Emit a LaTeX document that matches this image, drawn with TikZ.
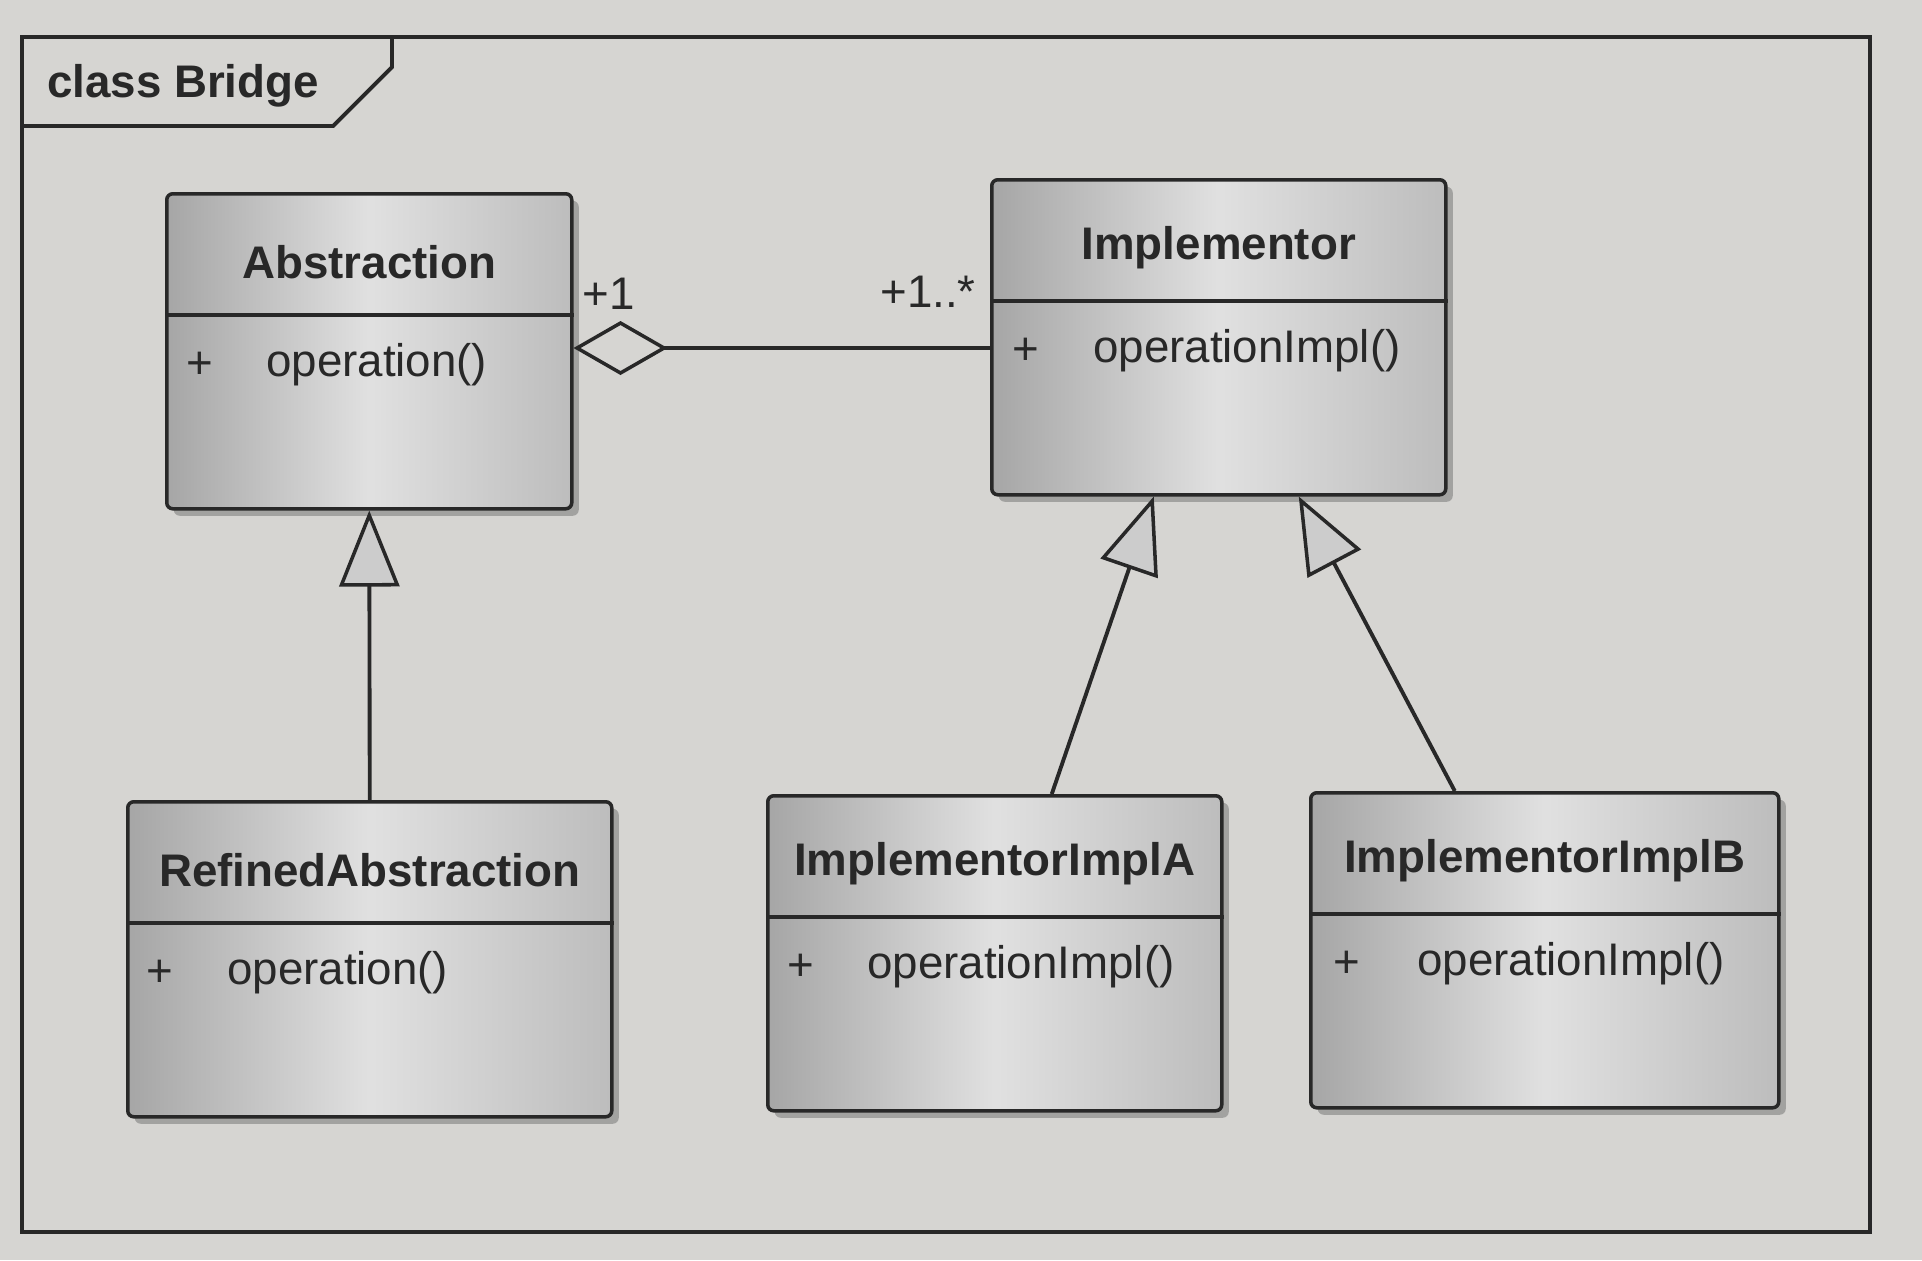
\documentclass[tikz,border=0pt]{standalone}
\usepackage{fontspec}
\setmainfont{Liberation Sans}
\usetikzlibrary{arrows.meta,shadows}
\definecolor{paper}{RGB}{214,213,210}
\definecolor{ink}{RGB}{40,40,40}

\begin{document}
\begin{tikzpicture}[
  x=1cm, y=-1cm,
  every node/.style={font=\fontsize{13}{15}\selectfont, inner sep=1pt, text=ink},
  classbox/.style={draw=ink, line width=1pt, rounded corners=0.6mm, anchor=north west,
    minimum height=3.15cm, left color=black!35, right color=black!26, middle color=black!12,
    drop shadow={shadow xshift=0.7mm, shadow yshift=-0.7mm, fill=black!50, opacity=0.6}},
  classname/.style={font=\fontsize{13}{15}\selectfont\bfseries},
  opname/.style={anchor=west},
  divider/.style={draw=ink, line width=1pt},
  inherit/.style={draw=ink, line width=1.1pt,
    -{Triangle[length=7.6mm, width=6mm, fill=black!20, line width=1pt]}},
  aggr/.style={draw=ink, line width=1.1pt,
    {Diamond[length=9.4mm, width=5.4mm, fill=paper, line width=1pt]}-},
]
\fill[paper] (0,0) rectangle (19.22,12.60);
\useasboundingbox (0,0) rectangle (19.22,12.60);

% frame
\draw[ink, line width=1.1pt] (0.22,0.37) rectangle (18.70,12.32);
\draw[ink, line width=1.1pt] (3.92,0.37) -- (3.92,0.67) -- (3.33,1.26) -- (0.22,1.26);
\node[classname, anchor=west] (frame-title) at (0.43,0.86) {class Bridge};

% Abstraction
\node[classbox, minimum width=4.05cm] (abs) at (1.65,1.92) {};
\draw[divider] ([yshift=-1.23cm]abs.north west) -- ([yshift=-1.23cm]abs.north east);
\node[classname] (abs-name) at ([yshift=-0.70cm]abs.north) {Abstraction};
\node (abs-vis) at ([xshift=0.35cm,yshift=-1.73cm]abs.north west) {+};
\node[opname] (abs-op) at ([xshift=0.97cm,yshift=-1.73cm]abs.north west) {operation()};

% Implementor
\node[classbox, minimum width=4.54cm] (impl) at (9.90,1.78) {};
\draw[divider] ([yshift=-1.23cm]impl.north west) -- ([yshift=-1.23cm]impl.north east);
\node[classname] (impl-name) at ([yshift=-0.70cm]impl.north) {Implementor};
\node (impl-vis) at ([xshift=0.36cm,yshift=-1.73cm]impl.north west) {+};
\node[opname] (impl-op) at ([xshift=0.99cm,yshift=-1.73cm]impl.north west) {operationImpl()};

% RefinedAbstraction
\node[classbox, minimum width=4.84cm] (ref) at (1.26,8.00) {};
\draw[divider] ([yshift=-1.23cm]ref.north west) -- ([yshift=-1.23cm]ref.north east);
\node[classname] (ref-name) at ([yshift=-0.70cm]ref.north) {RefinedAbstraction};
\node (ref-vis) at ([xshift=0.34cm,yshift=-1.73cm]ref.north west) {+};
\node[opname] (ref-op) at ([xshift=0.97cm,yshift=-1.73cm]ref.north west) {operation()};

% ImplementorImplA
\node[classbox, minimum width=4.54cm] (implA) at (7.66,7.94) {};
\draw[divider] ([yshift=-1.23cm]implA.north west) -- ([yshift=-1.23cm]implA.north east);
\node[classname] (implA-name) at ([yshift=-0.70cm]implA.north) {ImplementorImplA};
\node (implA-vis) at ([xshift=0.35cm,yshift=-1.73cm]implA.north west) {+};
\node[opname] (implA-op) at ([xshift=0.97cm,yshift=-1.73cm]implA.north west) {operationImpl()};

% ImplementorImplB
\node[classbox, minimum width=4.68cm] (implB) at (13.09,7.91) {};
\draw[divider] ([yshift=-1.23cm]implB.north west) -- ([yshift=-1.23cm]implB.north east);
\node[classname] (implB-name) at ([yshift=-0.70cm]implB.north) {ImplementorImplB};
\node (implB-vis) at ([xshift=0.38cm,yshift=-1.73cm]implB.north west) {+};
\node[opname] (implB-op) at ([xshift=1.04cm,yshift=-1.73cm]implB.north west) {operationImpl()};

% aggregation
\coordinate (aggr-y) at (0,3.48);
\draw[aggr] (abs.east |- aggr-y) -- (impl.west |- aggr-y);
\node (mult-abs) at (6.09,2.94) {+1};
\node (mult-impl) at (9.28,2.92) {+1..*};

% generalization
\draw[inherit] (ref.north) -- (abs.south);
\draw[inherit] ([xshift=0.57cm]implA.north) -- ([xshift=-0.65cm]impl.south);
\draw[inherit] ([xshift=-0.90cm]implB.north) -- ([xshift=0.80cm]impl.south);
\end{tikzpicture}
\end{document}
